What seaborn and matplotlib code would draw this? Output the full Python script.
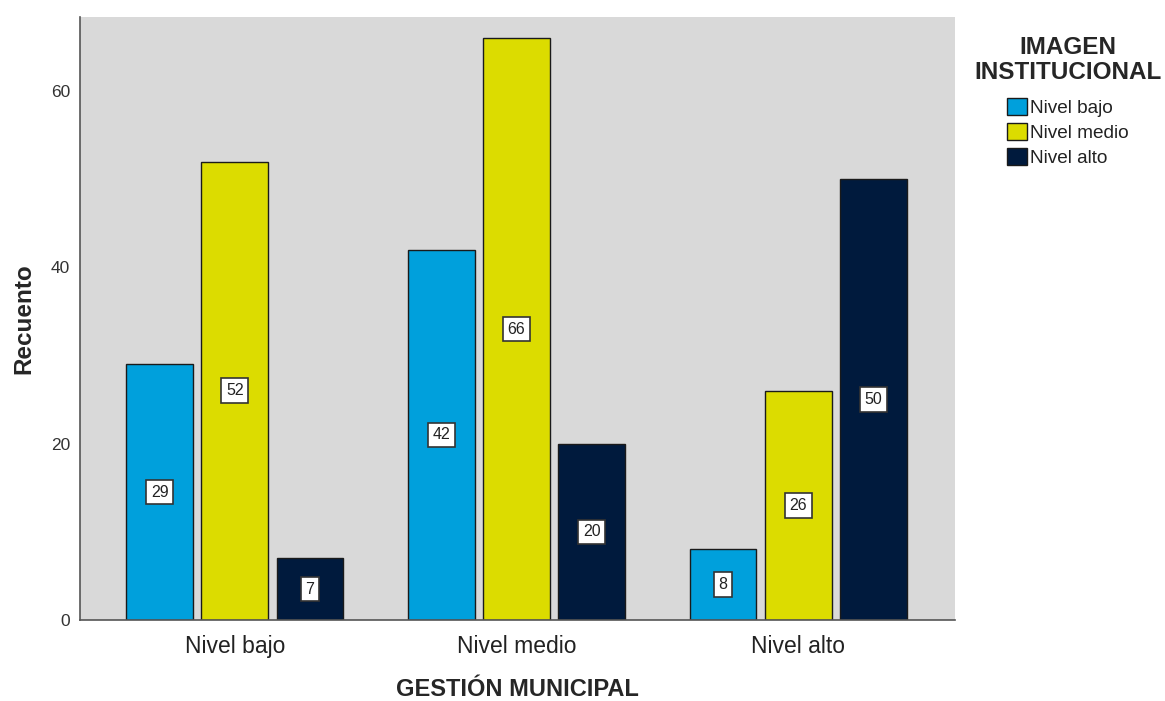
import matplotlib
matplotlib.use("Agg")
import matplotlib.pyplot as plt
import seaborn as sns
import pandas as pd

# Counts of institutional image level by municipal management level
gestion = ["Nivel bajo", "Nivel medio", "Nivel alto"]
imagen = ["Nivel bajo", "Nivel medio", "Nivel alto"]
recuento_bajo = [29, 42, 8]
recuento_medio = [52, 66, 26]
recuento_alto = [7, 20, 50]
colores = ["#00A0DC", "#DCDC00", "#001A3D"]

rows = []
for serie, vals in zip(imagen, [recuento_bajo, recuento_medio, recuento_alto]):
    for g, v in zip(gestion, vals):
        rows.append({"gestion": g, "imagen": serie, "recuento": v})
df = pd.DataFrame(rows)

sns.set_style("white")
plt.rcParams["font.family"] = ["Liberation Sans", "DejaVu Sans"]

fig = plt.figure(figsize=(11.65, 7.01), dpi=100)
ax = fig.add_axes([80 / 1165, 1 - 620 / 701, 875 / 1165, 603 / 701])
ax.set_facecolor("#D9D9D9")

sns.barplot(data=df, x="gestion", y="recuento", hue="imagen",
            order=gestion, hue_order=imagen, palette=colores,
            width=0.8, gap=0.11, edgecolor="#1a1a1a", linewidth=1.0,
            errorbar=None, ax=ax, saturation=1)

for cont in ax.containers:
    for bar in cont:
        h = bar.get_height()
        ax.text(bar.get_x() + bar.get_width() / 2, h / 2, f"{int(h)}",
                ha="center", va="center", fontsize=11.5, color="#222222",
                bbox=dict(boxstyle="square,pad=0.3", facecolor="white",
                          edgecolor="#333333", linewidth=1.2))

ax.set_xlim(-0.55, 2.557)
ax.set_ylim(0, 68.4)
ax.set_yticks([0, 20, 40, 60])
ax.tick_params(axis="y", labelsize=12.5, colors="#333333", length=0, pad=7)
ax.tick_params(axis="x", labelsize=16.5, colors="#222222", length=0, pad=11)

for side in ["top", "right"]:
    ax.spines[side].set_visible(False)
for side in ["left", "bottom"]:
    ax.spines[side].set_color("#555555")
    ax.spines[side].set_linewidth(1.2)

ax.set_xlabel("GESTIÓN MUNICIPAL", fontsize=17, fontweight="bold", labelpad=14)
ax.set_ylabel("Recuento", fontsize=17.5, fontweight="bold", labelpad=11)

leg = ax.legend(title="IMAGEN\nINSTITUCIONAL", loc="upper center",
                bbox_to_anchor=(1068 / 1165, 1 - 36 / 701),
                bbox_transform=fig.transFigure, frameon=False, fontsize=13.7,
                title_fontproperties={"weight": "bold", "size": 17.5},
                handlelength=1.05, handleheight=1.05, handletextpad=0.15,
                labelspacing=0.3, borderaxespad=0.0, borderpad=0.0)
leg._legend_box.align = "center"
leg._legend_box.sep = 10
leg.get_title().set_multialignment("center")
leg.get_title().set_linespacing(1.1)
for t in leg.get_texts():
    t.set_color("#222222")

fig.savefig("out.png", dpi=100)
